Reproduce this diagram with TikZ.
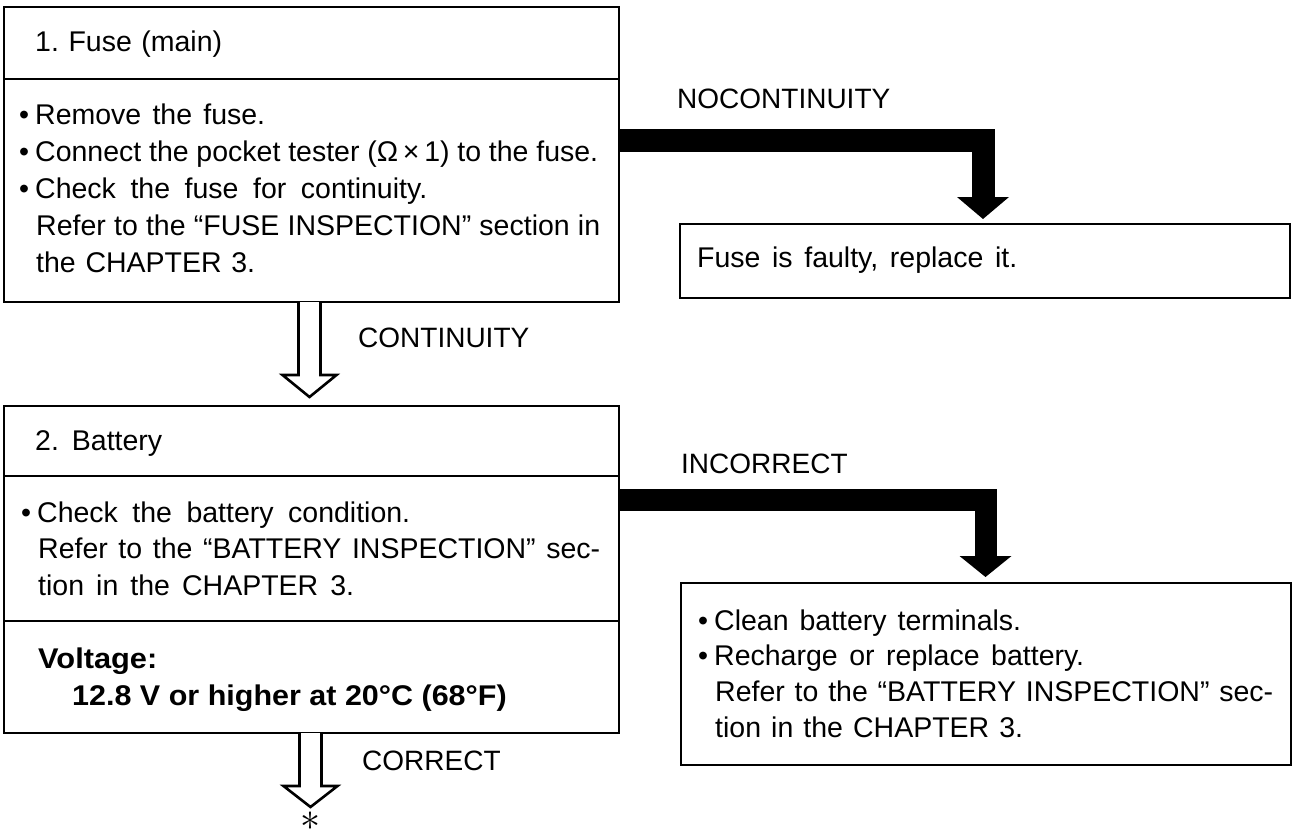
\documentclass[tikz,border=0pt]{standalone}
\usepackage{graphicx}
\usepackage{fontspec}
\setmainfont{Liberation Sans}
\usetikzlibrary{calc}
\frenchspacing
\newcommand\mybul{\makebox[16pt][l]{\textbullet}}
\newcommand\fitto[2]{\makebox[#1pt][s]{#2}}
\begin{document}
\begin{tikzpicture}[x=1pt,y=-1pt,
  box/.style={draw=black, line width=2.8pt, inner sep=0pt, outer sep=0pt, rectangle},
  sepline/.style={draw=black, line width=2.8pt},
  txt/.style={anchor=base west, inner sep=0pt, font=\fontsize{28.5}{34}\selectfont},
  lbl/.style={anchor=base west, inner sep=0pt, font=\fontsize{28}{34}\selectfont},
  btxt/.style={anchor=base west, inner sep=0pt, font=\fontsize{28.5}{34}\selectfont\bfseries},
  fat/.style={draw=black, line width=23pt, line join=miter, line cap=butt},
  hollow/.style={draw=black, line width=2.6pt, line join=miter, fill=white}
]
\useasboundingbox (0,0) rectangle (1299,832);
\fill[white] (0,0) rectangle (1299,832);

% ---- boxes
\node[box, minimum width=615pt, minimum height=295pt] (b1) at (311.5,154.5) {};
\node[box, minimum width=615pt, minimum height=327pt] (b2) at (311.5,569.5) {};
\node[box, minimum width=610pt, minimum height=74pt] (fuse) at (985,261) {};
\node[box, minimum width=610pt, minimum height=182pt] (bat) at (986,674) {};

% ---- separators
\coordinate (s1) at (0,79);
\coordinate (s2) at (0,476);
\coordinate (s3) at (0,621);
\draw[sepline] (b1.west |- s1) -- (b1.east |- s1);
\draw[sepline] (b2.west |- s2) -- (b2.east |- s2);
\draw[sepline] (b2.west |- s3) -- (b2.east |- s3);

% ---- texts box 1
\node[txt] (t1h) at (35,52) {\fitto{187}{1. Fuse (main)}};
\node[txt] (t1a) at (19,125) {\fitto{246}{\mybul Remove the fuse.}};
\node[txt] (t1b) at (19,162) {\fitto{579}{\mybul Connect the pocket tester (Ω\,×\,1) to the fuse.}};
\node[txt] (t1c) at (19,199) {\fitto{408}{\mybul Check the fuse for continuity.}};
\node[txt] (t1d) at (36,235) {\fitto{564}{Refer to the “FUSE INSPECTION” section in}};
\node[txt] (t1e) at (36,272) {\fitto{219}{the CHAPTER 3.}};

% ---- texts box 2
\node[txt] (t2h) at (35,450) {\fitto{127}{2. Battery}};
\node[txt] (t2a) at (21,522) {\fitto{389}{\mybul Check the battery condition.}};
\node[txt] (t2b) at (38,558) {\fitto{562}{Refer to the “BATTERY INSPECTION” sec-}};
\node[txt] (t2c) at (38,595) {\fitto{316}{tion in the CHAPTER 3.}};
\node[btxt] (t2d) at (38,668) {\scalebox{1.08}[1]{Voltage:}};
\node[btxt] (t2e) at (72,705) {\scalebox{1.07}[1]{12.8 V or higher at 20°C (68°F)}};

% ---- right boxes texts
\node[txt] (tf) at (697,267) {\fitto{320}{Fuse is faulty, replace it.}};
\node[txt] (t3a) at (698,630) {\fitto{323}{\mybul Clean battery terminals.}};
\node[txt] (t3b) at (698,665) {\fitto{386}{\mybul Recharge or replace battery.}};
\node[txt] (t3c) at (715,701) {\fitto{558}{Refer to the “BATTERY INSPECTION” sec-}};
\node[txt] (t3d) at (715,737) {\fitto{308}{tion in the CHAPTER 3.}};

% ---- labels
\node[lbl] (lnc) at (677,109) {\fitto{219}{NOCONTINUITY}};
\node[lbl] (lc) at (358,347) {CONTINUITY};
\node[lbl] (lic) at (681,473) {INCORRECT};
\node[lbl] (lok) at (362,770) {CORRECT};

% ---- fat arrow 1 (NOCONTINUITY)
\coordinate (k1) at (983,140.5);
\coordinate (p1) at ($(k1 |- fuse.north)+(0,-5)$);
\coordinate (h1) at ($(p1)+(0,-22)$);
\draw[fat] (b1.east |- k1) -| ($(h1)+(0,2)$);
\fill[black] ($(h1)+(-26,0)$) -- ($(h1)+(26,0)$) -- (p1) -- cycle;

% ---- fat arrow 2 (INCORRECT)
\coordinate (k2) at (985.5,500);
\coordinate (p2) at ($(k2 |- bat.north)+(0,-6)$);
\coordinate (h2) at ($(p2)+(0,-21)$);
\draw[fat, line width=22pt] (b2.east |- k2) -| ($(h2)+(0,2)$);
\fill[black] ($(h2)+(-26,0)$) -- ($(h2)+(26,0)$) -- (p2) -- cycle;

% ---- hollow arrow 1 (CONTINUITY)
\coordinate (a1) at ($(b1.south)+(-2,0)$);
\coordinate (q1) at ($(b2.north)+(-2,-9)$);
\draw[hollow] ($(a1)+(-11,0)$) -- ($(q1)+(-11,-22)$) -- ($(q1)+(-27,-22)$) -- (q1)
  -- ($(q1)+(27,-22)$) -- ($(q1)+(11,-22)$) -- ($(a1)+(11,0)$);

% ---- hollow arrow 2 (CORRECT)
\coordinate (a2) at ($(b2.south)+(-1,0)$);
\coordinate (q2) at ($(a2)+(0,74)$);
\draw[hollow] ($(a2)+(-11,0)$) -- ($(q2)+(-11,-21)$) -- ($(q2)+(-27,-21)$) -- (q2)
  -- ($(q2)+(27,-21)$) -- ($(q2)+(11,-21)$) -- ($(a2)+(11,0)$);
\node[inner sep=0pt, font=\normalsize] (star) at ($(q2)+(0,14)$) {\scalebox{4}{$\ast$}};
\end{tikzpicture}
\end{document}
